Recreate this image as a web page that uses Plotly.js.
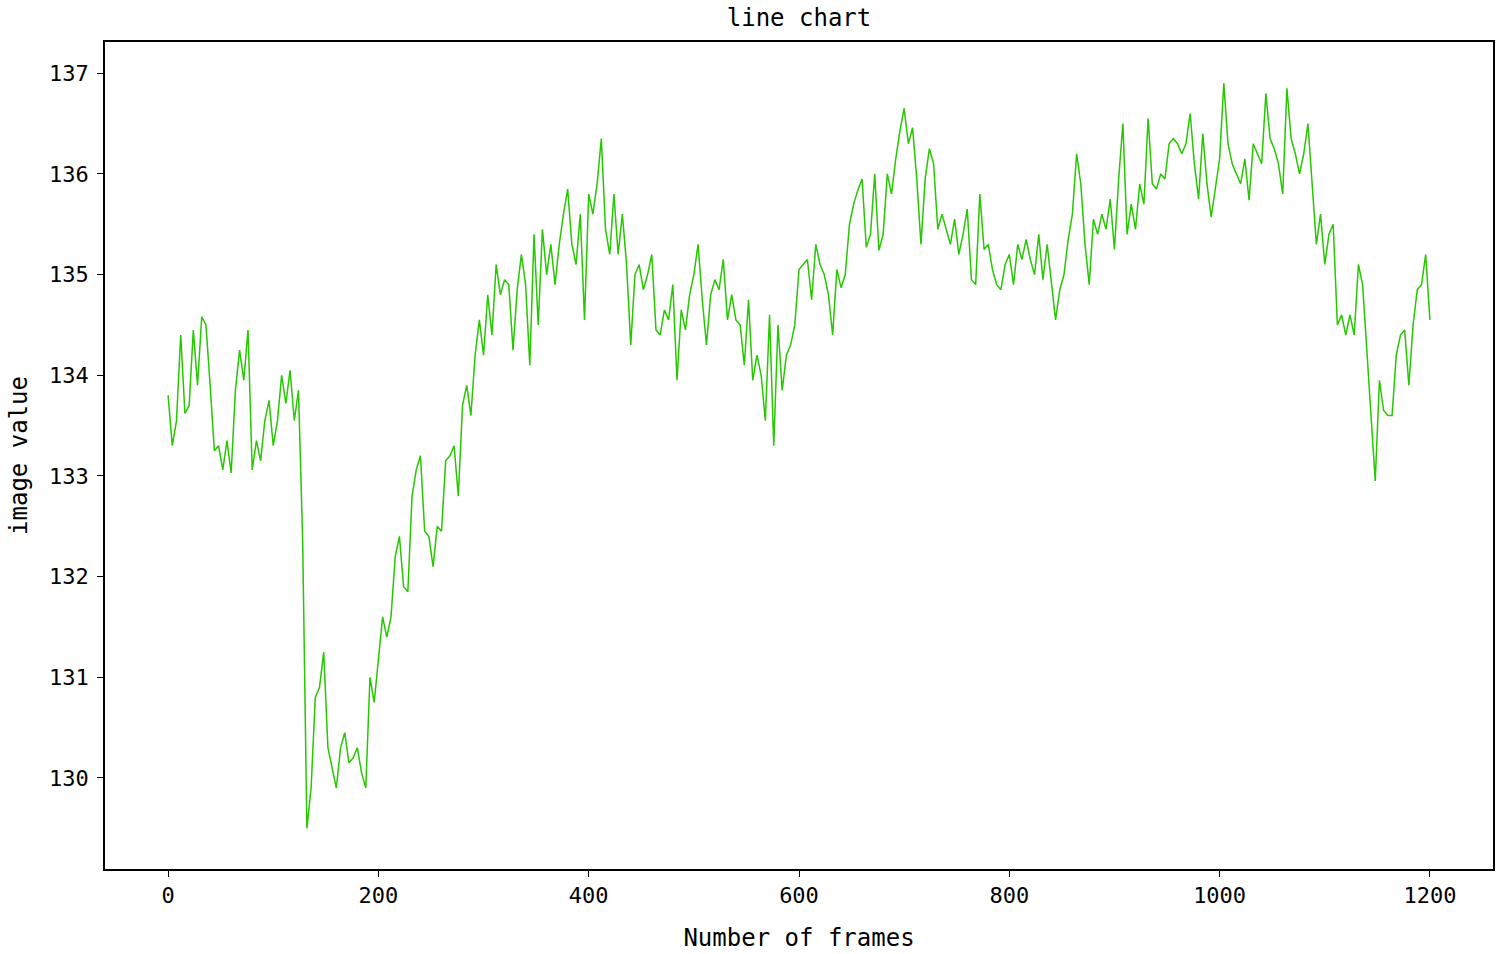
<!DOCTYPE html>
<html>
<head>
<meta charset="utf-8">
<script src="https://cdn.plot.ly/plotly-3.0.1.min.js"></script>
<style>html,body{margin:0;padding:0;background:#fff;}#chart{width:1500px;height:954px;}</style>
</head>
<body>
<div id="chart"></div>
<script>
const frameStep = 4;
const imageValue = [
133.8,133.3,133.55,134.4,133.62,133.7,134.45,133.9,134.58,134.5,
133.9,133.25,133.3,133.06,133.35,133.03,133.85,134.25,133.95,134.45,
133.06,133.35,133.15,133.55,133.75,133.3,133.55,134.0,133.72,134.05,
133.55,133.85,132.35,129.5,129.9,130.8,130.9,131.25,130.3,130.1,
129.9,130.3,130.45,130.15,130.2,130.3,130.05,129.9,131.0,130.75,
131.2,131.6,131.4,131.6,132.2,132.4,131.9,131.85,132.8,133.06,
133.2,132.45,132.4,132.1,132.5,132.45,133.15,133.2,133.3,132.8,
133.7,133.9,133.6,134.2,134.55,134.2,134.8,134.4,135.1,134.8,
134.95,134.9,134.25,134.85,135.2,134.9,134.1,135.4,134.5,135.45,
135.0,135.3,134.9,135.3,135.6,135.85,135.3,135.1,135.6,134.55,
135.8,135.6,135.9,136.35,135.45,135.2,135.8,135.2,135.6,135.1,
134.3,135.0,135.1,134.85,135.0,135.2,134.45,134.4,134.65,134.55,
134.9,133.95,134.65,134.45,134.8,135.0,135.3,134.75,134.3,134.8,
134.95,134.85,135.15,134.55,134.8,134.55,134.5,134.1,134.75,133.95,
134.2,134.0,133.55,134.6,133.3,134.5,133.85,134.2,134.3,134.5,
135.05,135.1,135.15,134.75,135.3,135.1,135.0,134.8,134.4,135.05,
134.87,135.0,135.5,135.7,135.84,135.95,135.27,135.4,136.0,135.24,
135.4,136.0,135.8,136.15,136.43,136.65,136.3,136.46,135.95,135.3,
135.95,136.25,136.1,135.45,135.6,135.45,135.3,135.55,135.2,135.4,
135.65,134.95,134.9,135.8,135.25,135.3,135.05,134.9,134.85,135.1,
135.2,134.9,135.3,135.15,135.35,135.15,135.0,135.4,134.95,135.3,
134.95,134.55,134.85,135.0,135.35,135.6,136.2,135.9,135.3,134.9,
135.55,135.4,135.6,135.45,135.75,135.25,135.95,136.5,135.4,135.7,
135.45,135.9,135.7,136.55,135.9,135.85,136.0,135.95,136.3,136.35,
136.3,136.2,136.3,136.6,136.1,135.75,136.4,135.9,135.57,135.85,
136.15,136.9,136.3,136.1,136.0,135.9,136.15,135.74,136.3,136.2,
136.1,136.8,136.35,136.25,136.1,135.8,136.85,136.35,136.2,136.0,
136.2,136.5,135.85,135.3,135.6,135.1,135.4,135.5,134.5,134.6,
134.4,134.6,134.4,135.1,134.9,134.2,133.6,132.95,133.95,133.65,
133.6,133.6,134.2,134.4,134.45,133.9,134.5,134.85,134.9,135.2,
134.55
];
const frames = imageValue.map((_, i) => i * frameStep);

const xTicks = [0, 200, 400, 600, 800, 1000, 1200];
const yTicks = [130, 131, 132, 133, 134, 135, 136, 137];

const chartTitle = 'line chart';
const xTitle = 'Number of frames';
const yTitle = 'image value';

const FONT = '"DejaVu Sans Mono", monospace';

const trace = {
  x: frames,
  y: imageValue,
  type: 'scatter',
  mode: 'lines',
  line: {color: '#26c800', width: 1.5},
  hoverinfo: 'x+y'
};

const axisCommon = {
  showgrid: false,
  zeroline: false,
  showline: true,
  mirror: true,
  linecolor: '#000',
  linewidth: 1.6,
  ticks: 'outside',
  ticklen: 6,
  tickwidth: 1.2,
  tickcolor: '#000',
  tickfont: {family: FONT, size: 22, color: '#000'}
};

const layout = {
  width: 1500,
  height: 954,
  paper_bgcolor: '#fff',
  plot_bgcolor: '#fff',
  showlegend: false,
  margin: {l: 105, r: 7, t: 42, b: 85},
  title: {
    text: chartTitle,
    font: {family: FONT, size: 24, color: '#000'},
    xref: 'paper', x: 0.5, xanchor: 'center',
    yref: 'container', y: 0.982, yanchor: 'middle'
  },
  xaxis: Object.assign({}, axisCommon, {
    range: [-60, 1260],
    tickvals: xTicks,
    ticktext: xTicks.map(String),
    title: {text: xTitle, font: {family: FONT, size: 24, color: '#000'}, standoff: 22}
  }),
  yaxis: Object.assign({}, axisCommon, {
    range: [129.096, 137.31],
    tickvals: yTicks,
    ticktext: yTicks.map(String),
    ticklabelstandoff: 4,
    title: {text: yTitle, font: {family: FONT, size: 24, color: '#000'}, standoff: 15}
  })
};

Plotly.newPlot('chart', [trace], layout, {displayModeBar: false});
</script>
</body>
</html>
